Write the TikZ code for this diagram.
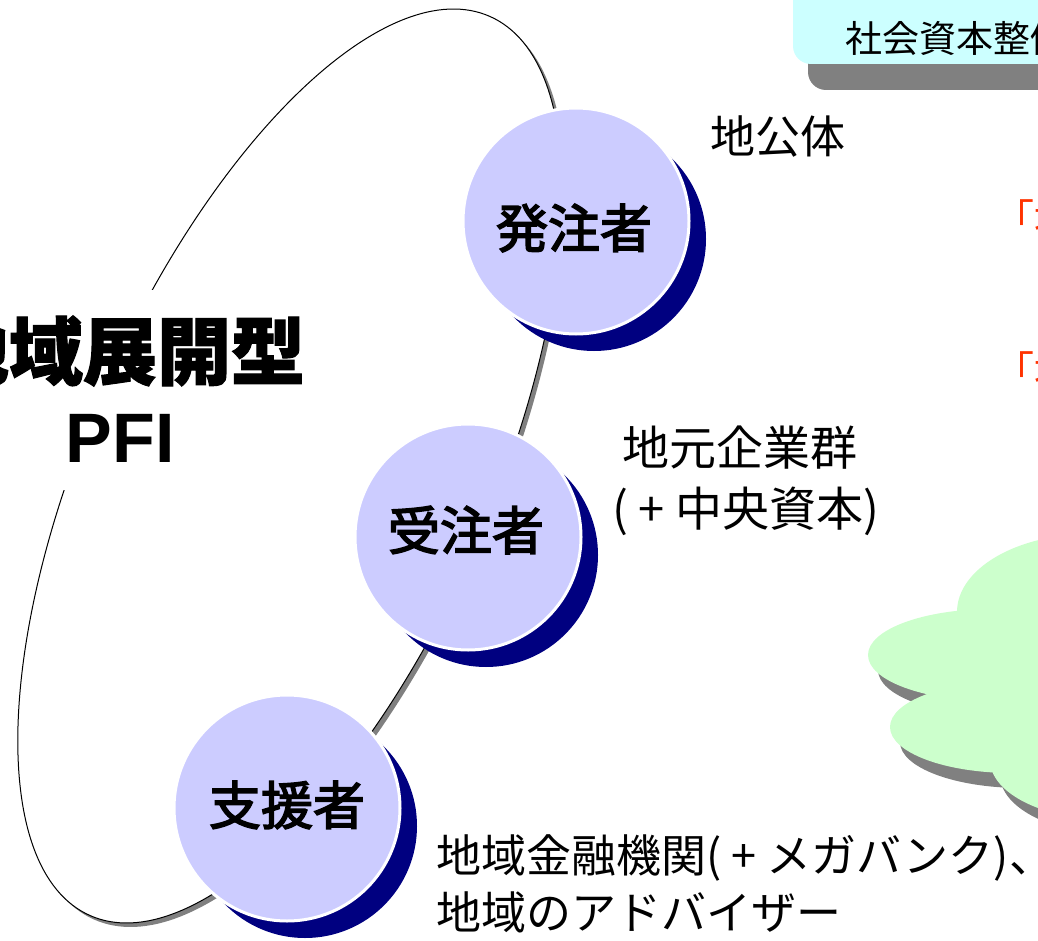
\documentclass[tikz,border=0pt]{standalone}
\usepackage{fontspec}
\setmainfont{Liberation Sans}
\newfontfamily\jp{Noto Sans CJK JP}
\newfontfamily\jpm[FakeBold=3]{Noto Sans CJK JP}
\newfontfamily\jph[BoldFeatures={FakeBold=1.5}]{Noto Sans CJK JP}
\definecolor{lav}{HTML}{CCCCFF}
\definecolor{navyc}{HTML}{000080}
\definecolor{cyanbox}{HTML}{CCFFFF}
\definecolor{cloudg}{HTML}{CCFFCC}
\definecolor{shad}{HTML}{808080}
\definecolor{redtxt}{HTML}{FF3300}
\tikzset{
  rolecirc/.style={circle, fill=lav, draw=white, line width=3pt, minimum size=226pt, inner sep=0pt},
  roletext/.style={inner sep=0pt, font=\jpm\fontsize{52}{60}\selectfont},
  lab/.style={inner sep=0pt, font=\jp\fontsize{45}{54}\selectfont},
  redlab/.style={inner sep=0pt, anchor=west, text=redtxt, font=\jp\fontsize{40}{48}\selectfont},
}
\begin{document}
\begin{tikzpicture}[x=1pt,y=1pt]
\useasboundingbox (0,0) rectangle (1038,-941);
\fill[white] (0,0) rectangle (1038,-941);
% top box
\fill[shad, rounded corners=18pt] (808,-90) rectangle (1120,40);
\fill[cyanbox, rounded corners=18pt] (793,-64) rectangle (1120,40);
\node[anchor=west, inner sep=0pt, font=\jp\fontsize{37}{44}\selectfont] (boxtxt) at (845,-38) {社会資本整備};
% big ellipse
\fill[shad, shift={(4,-4)}, rotate around={66:(290,-466)}] (290,-466) ellipse [x radius=492, y radius=202];
\filldraw[fill=white, draw=black, line width=1pt, rotate around={66:(290,-466)}] (290,-466) ellipse [x radius=492, y radius=202];
\node[fill=white, minimum width=380pt, minimum height=200pt, inner sep=0pt] (mask) at (120,-390) {};
\node[inner sep=0pt, font=\jph\bfseries\fontsize{74}{80}\selectfont] (title1) at (120,-351) {地域展開型};
\node[inner sep=0pt, font=\bfseries\fontsize{70}{80}\selectfont] (title2) at (120,-438) {PFI};
% circles
\fill[navyc] (594,-239) circle (112);
\node[rolecirc] (c1) at (576,-221) {};
\node[roletext] (t1) at (574,-228) {発注者};
\fill[navyc] (486,-555) circle (112);
\node[rolecirc] (c2) at (468,-537) {};
\node[roletext] (t2) at (466,-530) {受注者};
\fill[navyc] (305,-826) circle (112);
\node[rolecirc] (c3) at (287,-808) {};
\node[roletext] (t3) at (287,-805) {支援者};
% labels
\node[lab] (l1) at (778,-137) {地公体};
\node[lab, font=\jp\fontsize{47}{54}\selectfont] (l2) at (740,-448) {地元企業群};
\node[lab, font=\jp\fontsize{47}{54}\selectfont] (l3) at (746,-511) {( + 中央資本)};
\node[lab, anchor=west] (l4) at (436,-858) {地域金融機関( + メガバンク)、};
\node[lab, anchor=west] (l5) at (436,-912) {地域のアドバイザー};
% red text
\node[redlab] (r1) at (994,-218) {「地};
\node[redlab] (r2) at (994,-370) {「地};
% cloud
\begin{scope}[shift={(10,-15)}]
\fill[shad] (1090,-612) ellipse [x radius=133, y radius=78];
\fill[shad] (992,-655) ellipse [x radius=124, y radius=46];
\fill[shad] (1012,-727) ellipse [x radius=122, y radius=46];
\fill[shad] (1110,-760) ellipse [x radius=120, y radius=60];
\fill[shad] (960,-620) rectangle (1100,-760);
\end{scope}
\fill[cloudg] (1090,-612) ellipse [x radius=133, y radius=78];
\fill[cloudg] (992,-655) ellipse [x radius=124, y radius=46];
\fill[cloudg] (1012,-727) ellipse [x radius=122, y radius=46];
\fill[cloudg] (1110,-760) ellipse [x radius=120, y radius=60];
\fill[cloudg] (960,-620) rectangle (1100,-760);
\end{tikzpicture}
\end{document}
